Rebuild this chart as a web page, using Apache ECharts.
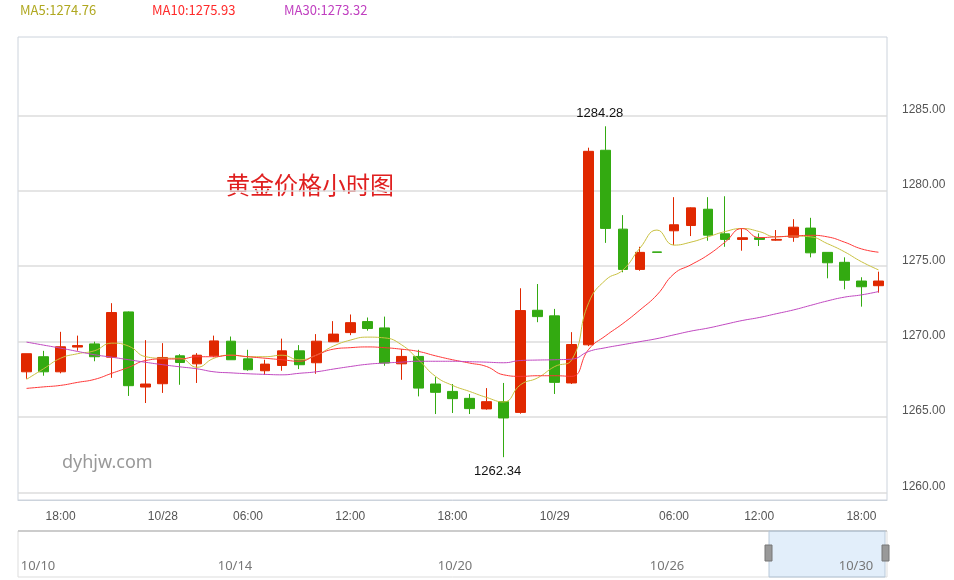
<!DOCTYPE html>
<html><head><meta charset="utf-8">
<script src="https://cdn.jsdelivr.net/npm/echarts@6/dist/echarts.min.js"></script>
<style>html,body{margin:0;padding:0;background:#fff}#c{width:954px;height:580px}</style>
</head><body><div id="c"></div>
<script>
const times = ['10/27 16:00','10/27 17:00','10/27 18:00','10/27 19:00','10/27 20:00','10/27 21:00','10/27 22:00','10/27 23:00',
'10/28 00:00','10/28 01:00','10/28 02:00','10/28 03:00','10/28 04:00','10/28 06:00','10/28 07:00','10/28 08:00','10/28 09:00','10/28 10:00','10/28 11:00',
'10/28 12:00','10/28 13:00','10/28 14:00','10/28 15:00','10/28 16:00','10/28 17:00','10/28 18:00','10/28 19:00','10/28 20:00','10/28 21:00','10/28 22:00','10/28 23:00',
'10/29 00:00','10/29 01:00','10/29 02:00','10/29 03:00','10/29 04:00','10/29 05:00','10/29 05:30','10/29 06:00','10/29 07:00','10/29 08:00','10/29 09:00','10/29 10:00',
'10/29 12:00','10/29 13:00','10/29 14:00','10/29 15:00','10/29 16:00','10/29 17:00','10/29 18:00','10/29 19:00'];
const tickLabels = {'10/27 18:00':'18:00','10/28 00:00':'10/28','10/28 06:00':'06:00','10/28 12:00':'12:00','10/28 18:00':'18:00','10/29 00:00':'10/29','10/29 06:00':'06:00','10/29 12:00':'12:00','10/29 18:00':'18:00'};
const open  = [1268.0,1269.0,1268.0,1269.64,1269.85,1268.97,1271.97,1266.99,1267.21,1269.06,1268.53,1269.06,1270.03,1268.86,1268.07,1268.42,1269.39,1268.6,1269.99,1270.6,1271.33,1270.91,1268.53,1269.02,1267.19,1266.7,1266.24,1265.54,1266.02,1265.31,1272.08,1271.71,1267.26,1269.79,1282.69,1277.46,1274.79,1275.95,1277.35,1277.7,1278.78,1277.15,1276.78,1276.89,1276.73,1276.93,1277.53,1275.92,1275.26,1274.02,1273.71];
const close = [1269.2,1268.0,1269.66,1269.74,1269.0,1271.93,1267.08,1267.19,1268.95,1268.62,1269.1,1270.05,1268.8,1268.14,1268.51,1269.39,1268.47,1270.03,1270.5,1271.26,1270.87,1268.58,1269.02,1266.92,1266.64,1266.22,1265.56,1266.02,1264.94,1272.06,1271.66,1267.3,1269.81,1282.62,1277.51,1274.79,1275.92,1275.92,1277.75,1278.87,1277.06,1276.78,1276.89,1276.78,1276.78,1277.59,1275.89,1275.23,1274.07,1273.64,1274.02];
const low   = [1267.54,1267.74,1267.9,1269.4,1268.7,1267.6,1266.4,1265.93,1266.6,1267.14,1267.26,1268.97,1268.8,1268.07,1267.8,1268.07,1268.18,1267.87,1269.99,1270.43,1270.73,1268.4,1267.47,1266.37,1265.2,1265.27,1265.2,1265.49,1262.34,1265.22,1271.29,1266.53,1267.19,1269.7,1276.55,1274.6,1274.7,1275.92,1276.4,1277.0,1276.69,1276.29,1276.03,1276.34,1276.69,1276.62,1275.59,1274.2,1273.47,1272.32,1273.25];
const high  = [1269.2,1269.39,1270.65,1270.4,1270.0,1272.55,1272.0,1270.1,1269.9,1269.17,1269.24,1270.4,1270.34,1269.46,1268.8,1270.2,1269.77,1270.5,1271.36,1271.8,1271.6,1271.66,1269.5,1269.46,1267.65,1267.19,1266.53,1266.92,1267.26,1273.54,1273.82,1272.17,1270.63,1282.86,1284.28,1278.39,1276.29,1275.95,1279.58,1278.9,1279.58,1279.64,1277.5,1277.18,1277.4,1278.12,1278.21,1275.92,1275.59,1274.27,1274.64];
const ma5  = [1267.5,1268.2,1268.9,1269.2,1269.4,1269.9,1269.7,1269.0,1268.9,1268.9,1268.3,1268.9,1269.1,1269.0,1269.0,1269.1,1268.8,1269.1,1269.7,1270.1,1270.3,1270.25,1269.8,1268.8,1267.7,1267.1,1266.7,1266.3,1266.0,1267.15,1267.6,1268.35,1268.8,1272.6,1274.1,1274.75,1276.2,1277.4,1276.4,1276.6,1276.95,1277.3,1277.5,1277.3,1276.95,1277.0,1276.95,1276.5,1275.96,1275.3,1274.76];
const ma10 = [1266.9,1267.0,1267.1,1267.3,1267.5,1267.9,1268.3,1268.75,1268.85,1268.85,1269.0,1269.0,1269.1,1269.0,1268.9,1268.8,1268.7,1269.1,1269.5,1269.6,1269.65,1269.6,1269.5,1269.35,1269.06,1268.8,1268.58,1268.35,1267.8,1267.7,1267.74,1267.74,1267.7,1269.5,1270.4,1271.2,1272.1,1273.1,1274.5,1275.1,1275.75,1276.6,1277.5,1276.9,1276.95,1277.0,1277.05,1276.95,1276.6,1276.15,1275.93];
const ma30 = [1269.97,1269.77,1269.57,1269.35,1269.13,1268.97,1268.8,1268.63,1268.47,1268.33,1268.2,1268.0,1267.93,1267.87,1267.83,1267.8,1267.9,1268.0,1268.18,1268.35,1268.5,1268.58,1268.64,1268.7,1268.7,1268.7,1268.67,1268.64,1268.6,1268.75,1268.78,1268.8,1268.84,1269.35,1269.6,1269.8,1270.0,1270.2,1270.45,1270.7,1270.9,1271.15,1271.4,1271.6,1271.85,1272.1,1272.4,1272.7,1272.95,1273.1,1273.32];
const yTicks = [1260,1265,1270,1275,1280,1285];
const navDates = [{t:'10/10',x:38},{t:'10/14',x:235},{t:'10/20',x:455},{t:'10/26',x:667},{t:'10/30',x:856}];

const UP='#e02800', DOWN='#33aa11';
const kdata = open.map((o,i)=>[o, close[i], low[i], high[i]]);
const chart = echarts.init(document.getElementById('c'));
const lineS = (name,data,color)=>({name,type:'line',data,smooth:true,showSymbol:false,symbol:'none',lineStyle:{width:1,color},itemStyle:{color},z:3});
chart.setOption({
  animation:false,
  grid:{left:18,right:67,top:37,bottom:80,show:true,borderColor:'#ccd3dc',borderWidth:1},
  xAxis:{type:'category',data:times,boundaryGap:true,
    axisLine:{lineStyle:{color:'#ccd3dc'}},
    axisTick:{alignWithLabel:true,length:5,lineStyle:{color:'#ccd3dc'},interval:(i,v)=>!!tickLabels[v]},
    axisLabel:{color:'#555',fontSize:12,margin:11,interval:(i,v)=>!!tickLabels[v],formatter:v=>tickLabels[v]||''},
    splitLine:{show:false}},
  yAxis:{type:'value',position:'right',min:1259.5,max:1290.2,scale:true,
    axisLine:{show:false},axisTick:{show:false,customValues:yTicks},
    axisLabel:{color:'#555',fontSize:12,margin:15,verticalAlign:'bottom',customValues:yTicks,formatter:v=>v.toFixed(2)},
    splitLine:{lineStyle:{color:'#dcdcdc',width:1.5}}},
  series:[
    {type:'candlestick',data:kdata,barWidth:'60%',
     itemStyle:{color:UP,color0:DOWN,borderColor:UP,borderColor0:DOWN,borderWidth:1},
     markPoint:{symbol:'circle',symbolSize:0,
       data:[{type:'max',valueDim:'highest',label:{position:'top',distance:6,offset:[-6,0]}},{type:'min',valueDim:'lowest',label:{position:'bottom',distance:8,offset:[-6,0]}}],
       label:{show:true,color:'#111',fontSize:13,formatter:p=>p.value.toFixed(2)}}},
    lineS('MA5',ma5,'#c8c040'),
    lineS('MA10',ma10,'#ff3838'),
    lineS('MA30',ma30,'#c048c0')
  ],
  graphic:[
    {type:'text',left:20,top:4,style:{text:'MA5:'+ma5[ma5.length-1].toFixed(2),fill:'#b0a820',font:'13px "Noto Sans CJK SC",sans-serif'}},
    {type:'text',left:152,top:4,style:{text:'MA10:'+ma10[ma10.length-1].toFixed(2),fill:'#ff2a2a',font:'13px "Noto Sans CJK SC",sans-serif'}},
    {type:'text',left:284,top:4,style:{text:'MA30:'+ma30[ma30.length-1].toFixed(2),fill:'#c040c0',font:'13px "Noto Sans CJK SC",sans-serif'}},
    {type:'text',left:226,top:173,style:{text:'黄金价格小时图',fill:'#e02020',font:'24px "Noto Sans CJK SC",sans-serif'}},
    {type:'text',left:62,top:454,style:{text:'dyhjw.com',fill:'#999',font:'18px "Noto Sans",sans-serif'}},
    {type:'rect',shape:{x:18,y:531,width:869,height:46},style:{fill:'none',stroke:'#ddd'}},
    {type:'line',shape:{x1:18,y1:531,x2:887,y2:531},style:{stroke:'#ccc',lineWidth:2}},
    {type:'rect',shape:{x:769,y:531,width:116,height:46},style:{fill:'rgba(160,200,240,0.3)',stroke:'#b8c8d8'}},
    {type:'rect',shape:{x:765,y:545,width:7,height:16},style:{fill:'#999',stroke:'#777'}},
    {type:'rect',shape:{x:882,y:545,width:7,height:16},style:{fill:'#999',stroke:'#777'}},
    ...navDates.map(d=>({type:'text',x:d.x,y:560,style:{text:d.t,fill:'#777',font:'13px "Noto Sans",sans-serif',align:'center'}}))
  ]
});
</script></body></html>
